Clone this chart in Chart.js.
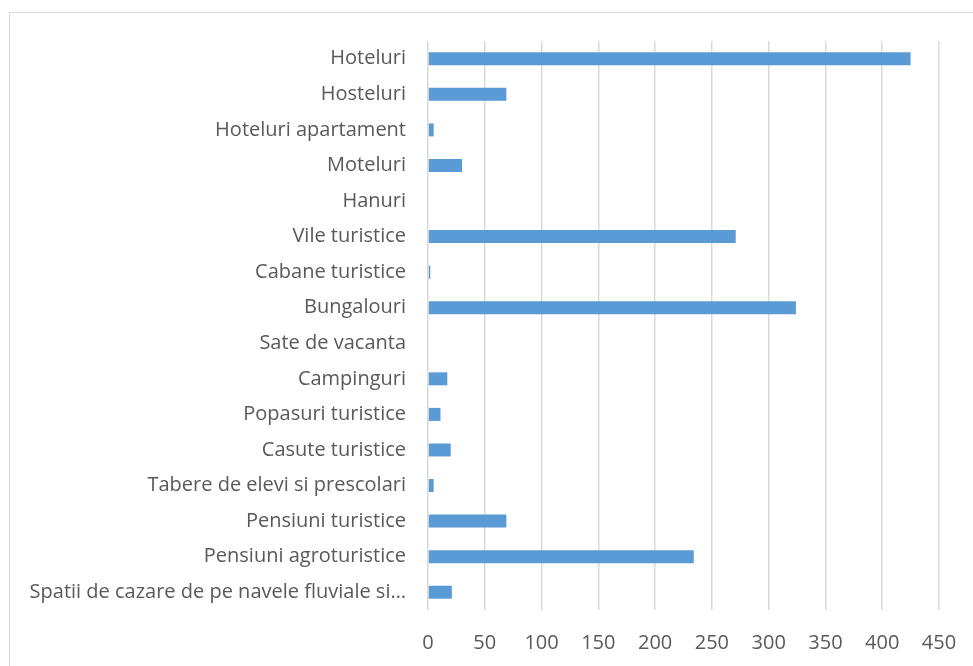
<!DOCTYPE html>
<html>
<head>
<meta charset="utf-8">
<script src="https://cdn.jsdelivr.net/npm/chart.js@4"></script>
<style>
  html, body { margin: 0; padding: 0; background: #fff; overflow: hidden; }
  #frame { position: absolute; left: 9px; top: 12px; width: 1000px; height: 700px; border: 1px solid #d9d9d9; }
  #wrap { position: absolute; left: 0; top: 0; width: 973px; height: 666px; }
</style>
</head>
<body>
<div id="frame"></div>
<div id="wrap"><canvas id="chart"></canvas></div>
<script>
const categories = [
  'Hoteluri', 'Hosteluri', 'Hoteluri apartament', 'Moteluri', 'Hanuri',
  'Vile turistice', 'Cabane turistice', 'Bungalouri', 'Sate de vacanta',
  'Campinguri', 'Popasuri turistice', 'Casute turistice',
  'Tabere de elevi si prescolari', 'Pensiuni turistice',
  'Pensiuni agroturistice', 'Spatii de cazare de pe navele fluviale si\u2026'
]
const units = [425, 69, 5, 30, 0, 271, 2, 324, 0, 17, 11, 20, 5, 69, 234, 21]
const xTicks = [0, 50, 100, 150, 200, 250, 300, 350, 400, 450]

const FONT = { family: "'Open Sans', sans-serif", size: 20 }
const TEXT = '#595959'
const GRID = '#d9d9d9'

new Chart(document.getElementById('chart'), {
  type: 'bar',
  data: {
    labels: categories,
    datasets: [{
      data: units,
      backgroundColor: '#5b9bd5',
      borderWidth: 0,
      categoryPercentage: 1,
      barPercentage: 0.365
    }]
  },
  options: {
    indexAxis: 'y',
    responsive: true,
    maintainAspectRatio: false,
    animation: false,
    layout: { padding: { top: 41, right: 34, left: 0, bottom: 0 } },
    plugins: { legend: { display: false }, tooltip: { enabled: false } },
    scales: {
      x: {
        min: 0, max: 450,
        afterBuildTicks: s => { s.ticks = xTicks.map(v => ({ value: v })) },
        afterFit: s => { s.height = 56; s.paddingRight = 0; s.paddingLeft = 0 },
        grid: { color: GRID, lineWidth: 1.5, drawTicks: false },
        border: { display: false },
        ticks: { color: TEXT, font: FONT, padding: 21, maxRotation: 0 }
      },
      y: {
        afterFit: s => { s.width = 428; s.paddingTop = 0; s.paddingBottom = 0 },
        grid: { display: false, drawTicks: false },
        border: { display: false },
        ticks: { color: TEXT, font: FONT, padding: 22, autoSkip: false }
      }
    }
  }
})
</script>
</body>
</html>
